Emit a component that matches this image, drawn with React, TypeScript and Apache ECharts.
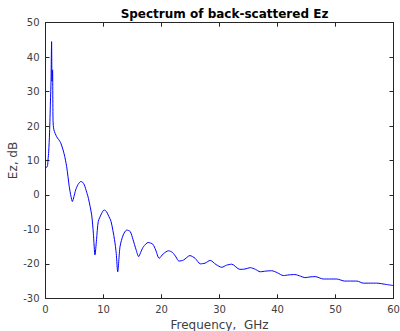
import React, { useEffect, useRef } from "react";
import * as echarts from "echarts";

const freqGHz = [
  0, 0.2, 0.35, 0.45, 0.55, 0.7, 0.85, 0.95, 1.05, 1.12, 1.22, 1.3, 1.45, 1.93, 2.6, 3.2, 3.65, 4.1, 4.4, 4.63,
  4.9, 5.2, 5.6, 6.07, 6.4, 6.7, 7.1, 7.4, 7.96, 8.25, 8.53, 8.8, 9.1, 9.7, 10.1, 10.5, 10.8, 11.3, 11.9, 12.2,
  12.45, 12.85, 13.4, 14.0, 14.6, 15.1, 15.6, 16.06, 16.5, 16.9, 17.7, 18.5, 19.0, 19.6, 20.3, 21.2, 21.9, 22.5,
  23.0, 23.8, 24.9, 25.8, 26.7, 27.5, 28.4, 29.4, 30.4, 31.2, 32.1, 33.5, 34.4, 35.3, 36.2, 37.0, 38.0, 39.0,
  40.0, 41.0, 42.0, 43.0, 44.0, 44.7, 45.6, 46.5, 47.9, 49.0, 50.2, 51.6, 52.6, 53.7, 54.8, 56.0, 57.1, 58.8, 60,
];
const ezDb = [
  8.3, 8.0, 8.5, 10.5, 12.5, 18, 27, 33, 44.5, 33, 36.3, 21.5, 18.9, 16.9, 15.2, 12, 8.2, 2.4, -0.5, -1.9,
  -0.5, 1.45, 3.0, 3.9, 3.7, 2.9, 0.8, -1, -5.8, -11.1, -17.4, -13, -7.7, -5.3, -4.35, -4.8, -5.8, -7.7, -13, -17,
  -22.3, -15, -11.6, -10.2, -10.6, -13, -15.8, -17.9, -16.3, -15, -13.8, -14.3, -16, -18.4, -17.1, -16.2, -16.7, -18,
  -19.2, -18.9, -17.6, -18.4, -20, -19.8, -19.0, -20.2, -21, -20.4, -20.1, -21.6, -21.5, -21.1, -21.6, -22.3, -22.1, -22.0,
  -22.6, -23.4, -23.2, -23.1, -23.6, -24.0, -23.8, -23.7, -24.4, -24.4, -24.4, -25.0, -25.0, -25.0, -25.6, -25.6, -25.6, -26.0, -26.3,
];

const titleText = "Spectrum of back-scattered Ez";
const xLabel = "Frequency,  GHz";
const yLabel = "Ez, dB";

export default function App() {
  const ref = useRef<HTMLDivElement>(null);
  useEffect(() => {
    document.body.style.margin = "0";
    const chart = echarts.init(ref.current!, null, { renderer: "svg" });
    const axisColor = "#262626";
    const labelColor = "#404040";
    const font = "DejaVu Sans";
    const common = {
      axisLine: { show: true, onZero: false, lineStyle: { color: axisColor, width: 1 } },
      axisTick: { show: true, inside: true, length: 4, lineStyle: { color: axisColor } },
      splitLine: { show: false },
    };
    chart.setOption({
      animation: false,
      backgroundColor: "#ffffff",
      title: {
        text: titleText,
        left: 219.5,
        textAlign: "center",
        top: 3,
        textStyle: { fontFamily: font, fontSize: 12, fontWeight: "bold", color: "#000" },
      },
      grid: { left: 45.5, right: 6.5, top: 22.7, bottom: 32.7, containLabel: false, outerBoundsMode: "none" },
      xAxis: [
        {
          type: "value",
          min: 0,
          max: 60,
          interval: 10,
          position: "bottom",
          ...common,
          axisLabel: { color: labelColor, fontFamily: font, fontSize: 10, margin: 6 },
          name: xLabel,
          nameLocation: "middle",
          nameGap: 21,
          nameTextStyle: { color: labelColor, fontFamily: font, fontSize: 12 },
        },
        {
          type: "value",
          min: 0,
          max: 60,
          interval: 10,
          position: "top",
          ...common,
          axisLabel: { show: false },
        },
      ],
      yAxis: [
        {
          type: "value",
          min: -30,
          max: 50,
          interval: 10,
          position: "left",
          ...common,
          axisLabel: { color: labelColor, fontFamily: font, fontSize: 10, margin: 6 },
          name: yLabel,
          nameLocation: "middle",
          nameGap: 27,
          nameMoveOverlap: false,
          nameTextStyle: { color: labelColor, fontFamily: font, fontSize: 12 },
        },
        {
          type: "value",
          min: -30,
          max: 50,
          interval: 10,
          position: "right",
          ...common,
          axisLabel: { show: false },
        },
      ],
      series: [
        {
          type: "line",
          xAxisIndex: 0,
          yAxisIndex: 0,
          data: freqGHz.map((f, i) => [f, ezDb[i]]),
          showSymbol: false,
          smooth: 0.25,
          lineStyle: { color: "#0000ff", width: 1 },
          itemStyle: { color: "#0000ff" },
        },
      ],
    });
    return () => chart.dispose();
  }, []);
  return <div ref={ref} style={{ position: "absolute", left: 0, top: 0, width: 400, height: 331 }} />;
}
